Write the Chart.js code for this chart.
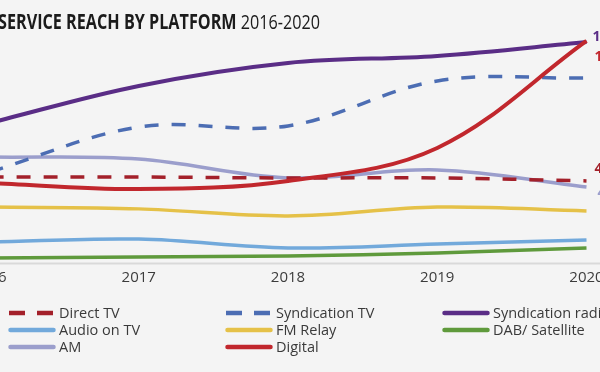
<!DOCTYPE html>
<html>
<head>
<meta charset="utf-8">
<script src="https://cdn.jsdelivr.net/npm/chart.js@4/dist/chart.umd.min.js"></script>
<style>
  html, body { margin:0; padding:0; background:#F4F4F4; width:600px; height:372px; overflow:hidden; }
  #wrap { position:absolute; left:-100px; top:0; width:800px; height:372px; }
  #title { position:absolute; left:-2px; top:11px; font-family:"Open Sans", sans-serif; font-size:20.5px; line-height:20px; color:#1b1b1b; white-space:nowrap; transform-origin:0 0; }
  #title b { font-weight:700; }
  #legend { position:absolute; left:0; top:0; width:600px; height:372px; pointer-events:none; font-family:"Open Sans", sans-serif; font-size:14.5px; color:#3a3a3a; }
  .li { position:absolute; height:17px; line-height:17px; white-space:nowrap; display:flex; align-items:center; }
  .li svg { display:block; margin-right:3px; }
</style>
</head>
<body>
<div id="wrap"><canvas id="c" width="800" height="372"></canvas></div>
<div id="title"><b>SERVICE REACH BY PLATFORM</b> 2016-2020</div>
<div id="legend"></div>
<script>
// ---- data (reach, thousands) ----
const years = ['2016', '2017', '2018', '2019', '2020'];
const directTV         = [467, 467, 462, 462, 446];
const syndicationTV    = [494, 737, 743, 986, 1002];
const syndicationRadio = [759, 959, 1083, 1121, 1196];
const audioOnTV        = [116, 132, 84, 105, 127];
const fmRelay          = [305, 295, 257, 305, 284];
const dabSatellite     = [30, 35, 41, 57, 84];
const am               = [575, 564, 462, 505, 413];
const digital          = [435, 402, 446, 624, 1202];
const seriesNames = ['Direct TV', 'Syndication TV', 'Syndication radio', 'Audio on TV', 'FM Relay', 'DAB/ Satellite', 'AM', 'Digital'];
const labelledSeries = ['Direct TV', 'Syndication radio', 'AM', 'Digital'];

const seriesValues = [directTV, syndicationTV, syndicationRadio, audioOnTV, fmRelay, dabSatellite, am, digital];
const styles = [
  { color:'#A3202A', dash:[14,13], width:3.5, order:2, dx:8,  dy:-12 },
  { color:'#4C6DB3', dash:[14,13], width:3.5, order:3 },
  { color:'#5A2D86', dash:[],      width:4,   order:4, dx:6,  dy:-5 },
  { color:'#72A9DB', dash:[],      width:3.5, order:6 },
  { color:'#E5C148', dash:[],      width:3.5, order:5 },
  { color:'#5F9A3C', dash:[],      width:3.5, order:7 },
  { color:'#9B9ECC', dash:[],      width:3.5, order:3, dx:11, dy:6 },
  { color:'#C1272D', dash:[],      width:4,   order:1, dx:8,  dy:16 }
];

function fmt(v) { return v >= 1000 ? (v / 1000).toFixed(1) + 'm' : Math.round(v) + 'k'; }

const datasets = seriesNames.map((name, i) => ({
  label: name,
  data: seriesValues[i],
  borderColor: styles[i].color,
  backgroundColor: styles[i].color,
  borderWidth: styles[i].width,
  borderDash: styles[i].dash,
  borderCapStyle: 'butt',
  pointRadius: 0,
  tension: 0.36,
  fill: false,
  order: styles[i].order,
  clip: false
}));

const axisLine = {
  id: 'axisLine',
  beforeDatasetsDraw(chart) {
    const ctx = chart.ctx, y = chart.chartArea.bottom;
    ctx.save();
    ctx.strokeStyle = '#D9D9D9';
    ctx.lineWidth = 2;
    ctx.beginPath();
    ctx.moveTo(0, y);
    ctx.lineTo(chart.width, y);
    ctx.stroke();
    ctx.restore();
  }
};

const endLabels = {
  id: 'endLabels',
  afterDatasetsDraw(chart) {
    const ctx = chart.ctx;
    ctx.save();
    ctx.font = 'bold 14px "Open Sans", sans-serif';
    ctx.textBaseline = 'middle';
    ctx.textAlign = 'left';
    chart.data.datasets.forEach((ds, i) => {
      if (!labelledSeries.includes(ds.label)) return;
      const meta = chart.getDatasetMeta(i);
      const p = meta.data[meta.data.length - 1];
      const v = ds.data[ds.data.length - 1];
      ctx.fillStyle = ds.borderColor;
      ctx.fillText(fmt(v), p.x + (styles[i].dx || 6), p.y + (styles[i].dy || 0));
    });
    ctx.restore();
  }
};

const chart = new Chart(document.getElementById('c'), {
  type: 'line',
  data: { labels: years, datasets },
  options: {
    responsive: false,
    animation: false,
    devicePixelRatio: 1,
    layout: { padding: { left: 89.5, right: 113.5, top: 30, bottom: 0 } },
    plugins: { legend: { display: false }, tooltip: { enabled: false }, title: { display: false } },
    scales: {
      x: {
        type: 'category',
        offset: false,
        grid: { display: false, drawTicks: false },
        border: { display: false },
        ticks: { color: '#3c3c3c', font: { family: '"Open Sans", sans-serif', size: 15 }, padding: 5, maxRotation: 0, autoSkip: false },
        afterFit: (s) => { s.height = 108.5; }
      },
      y: { display: false, min: 0, max: 1261 }
    }
  },
  plugins: [axisLine, endLabels]
});

// title width fit
const t = document.getElementById('title');
const tw = t.getBoundingClientRect().width;
t.style.transform = 'scaleX(' + (322 / tw) + ')';

// HTML legend built from the chart datasets
const leg = document.getElementById('legend');
const colX = [8, 225, 442];
const rowY = [304, 321, 338];
chart.data.datasets.forEach((ds, i) => {
  const col = i % 3, row = Math.floor(i / 3);
  const d = document.createElement('div');
  d.className = 'li';
  d.style.left = colX[col] + 'px';
  d.style.top = rowY[row] + 'px';
  const dashed = ds.borderDash && ds.borderDash.length;
  const svg = '<svg width="48" height="8"><line x1="' + (dashed ? 1 : 2.5) + '" y1="4" x2="' + (dashed ? 47 : 45.5) + '" y2="4" stroke="' + ds.borderColor +
    '" stroke-width="4.5" stroke-linecap="' + (dashed ? 'butt' : 'round') + '"' + (dashed ? ' stroke-dasharray="16 12"' : '') + '/></svg>';
  d.innerHTML = svg + '<span>' + ds.label + '</span>';
  leg.appendChild(d);
});
</script>
</body>
</html>
